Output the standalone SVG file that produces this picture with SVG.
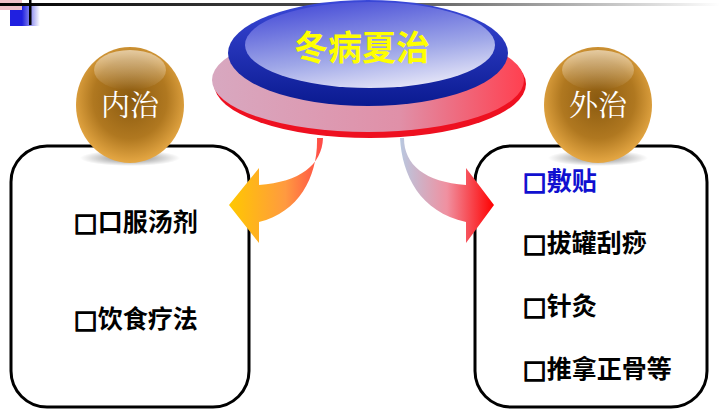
<svg xmlns="http://www.w3.org/2000/svg" width="720" height="411" viewBox="0 0 720 411">
<defs>
<linearGradient id="hl" x1="0" x2="1"><stop offset="0" stop-color="#000"/><stop offset="0.6" stop-color="#666"/><stop offset="1" stop-color="#fff"/></linearGradient>
<linearGradient id="bsq" x1="0" x2="1"><stop offset="0.4" stop-color="#2020e0"/><stop offset="1" stop-color="#fff"/></linearGradient>
<linearGradient id="pink" x1="0" x2="1"><stop offset="0" stop-color="#d8a8c0"/><stop offset="0.6" stop-color="#e090a8"/><stop offset="1" stop-color="#ff4050"/></linearGradient>
<linearGradient id="blueRim" x1="0" y1="0" x2="0" y2="1"><stop offset="0" stop-color="#3a48d8"/><stop offset="1" stop-color="#0a1a90"/></linearGradient>
<linearGradient id="blueTop" x1="0.3" y1="0" x2="0.7" y2="1"><stop offset="0" stop-color="#4a50d8"/><stop offset="0.6" stop-color="#a0a8e8"/><stop offset="1" stop-color="#e8e8f8"/></linearGradient>
<radialGradient id="orb" cx="0.5" cy="0.45" r="0.62"><stop offset="0" stop-color="#8a5a10"/><stop offset="0.55" stop-color="#b07820"/><stop offset="1" stop-color="#f8b850"/></radialGradient>
<linearGradient id="gloss" x1="0" y1="0" x2="0" y2="1"><stop offset="0" stop-color="#fff" stop-opacity="0.55"/><stop offset="1" stop-color="#fff" stop-opacity="0"/></linearGradient>
<radialGradient id="shadow"><stop offset="0" stop-color="#000" stop-opacity="0.5"/><stop offset="1" stop-color="#000" stop-opacity="0"/></radialGradient>
<linearGradient id="la" x1="0" x2="1"><stop offset="0" stop-color="#ffc800"/><stop offset="0.6" stop-color="#ff9a40"/><stop offset="1" stop-color="#ff4848"/></linearGradient>
<linearGradient id="ra" x1="0" x2="1"><stop offset="0" stop-color="#b8c8e0"/><stop offset="0.5" stop-color="#f090a0"/><stop offset="1" stop-color="#ff0000"/></linearGradient>
<style>
.box{fill:#fff;stroke:#000;stroke-width:3}
.item{font-family:"Noto Sans CJK SC",sans-serif;font-size:25px;font-weight:bold;fill:#000}
.sq{font-family:"DejaVu Sans",sans-serif;font-weight:bold;stroke:currentColor;stroke-width:1.2}
.orbt{font-family:"Noto Serif CJK SC","Noto Sans CJK SC",serif;font-size:29px;fill:#fff}
</style>
</defs>
<rect x="10" y="6" width="30" height="20" fill="url(#bsq)"/>
<rect x="0" y="0" width="22" height="10" fill="#f0c0c8"/>
<rect x="0" y="3" width="720" height="3" fill="url(#hl)"/>
<rect x="29" y="0" width="2.5" height="25" fill="#000"/>
<g id="box-left"><rect class="box" x="11" y="146" width="238" height="261" rx="36"/>
<text class="item" x="74" y="231"><tspan class="sq" color="#000">□</tspan>口服汤剂</text>
<text class="item" x="74" y="328"><tspan class="sq" color="#000">□</tspan>饮食疗法</text></g>
<g id="box-right"><rect class="box" x="475" y="146" width="232" height="261" rx="36"/>
<text class="item" x="523" y="190" style="fill:#1010d0"><tspan class="sq" color="#1010d0">□</tspan>敷贴</text>
<text class="item" x="523" y="252"><tspan class="sq" color="#000">□</tspan>拔罐刮痧</text>
<text class="item" x="523" y="315"><tspan class="sq" color="#000">□</tspan>针灸</text>
<text class="item" x="523" y="378"><tspan class="sq" color="#000">□</tspan>推拿正骨等</text></g>
<g id="orb-left"><ellipse cx="130" cy="158" rx="50" ry="8" fill="url(#shadow)"/>
<ellipse cx="130" cy="105" rx="54" ry="58" fill="url(#orb)"/>
<ellipse cx="130" cy="70" rx="36" ry="20" fill="url(#gloss)"/>
<text class="orbt" x="130" y="116" text-anchor="middle">内治</text></g>
<g id="orb-right"><ellipse cx="598" cy="158" rx="50" ry="8" fill="url(#shadow)"/>
<ellipse cx="598" cy="105" rx="54" ry="58" fill="url(#orb)"/>
<ellipse cx="598" cy="70" rx="36" ry="20" fill="url(#gloss)"/>
<text class="orbt" x="598" y="116" text-anchor="middle">外治</text></g>
<g id="top">
<ellipse cx="370" cy="84" rx="156" ry="54" fill="#ee1020"/>
<ellipse cx="368" cy="80" rx="156" ry="52" fill="url(#pink)"/>
<ellipse cx="368" cy="53" rx="140" ry="53" fill="url(#blueRim)"/>
<ellipse cx="370" cy="45" rx="125" ry="43" fill="url(#blueTop)"/>
<text x="362" y="60" text-anchor="middle" font-family="Noto Sans CJK SC,sans-serif" font-size="34" font-weight="bold" fill="#ffff00">冬病夏治</text>
</g>
<g id="connectors">
<path d="M323,138 C322,165 300,182 259,185 L259,168 L229,205 L259,243 L259,222 C300,212 318,175 317,138 Z" fill="url(#la)"/>
<path d="M400,138 C402,175 420,212 466,222 L466,243 L494,205 L466,168 L466,185 C425,182 404,165 404,138 Z" fill="url(#ra)"/>
</g>
</svg>
